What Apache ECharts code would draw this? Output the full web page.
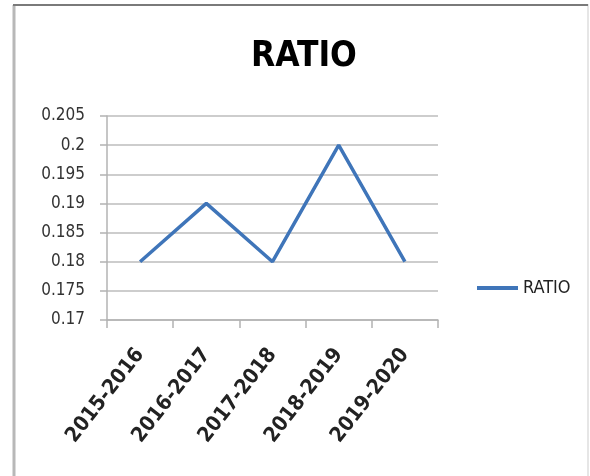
<!DOCTYPE html>
<html>
<head>
<meta charset="utf-8">
<script src="https://cdn.jsdelivr.net/npm/echarts@6/dist/echarts.min.js"></script>
<style>
	html,body{margin:0;padding:0;background:#fff;}
	#ratioChart{width:590px;height:476px;}
</style>
</head>
<body>
<div id="ratioChart"></div>
<script>
//数据
var years = ['2015-2016','2016-2017','2017-2018','2018-2019','2019-2020'];
var ratioValues = [0.18, 0.19, 0.18, 0.2, 0.18];
var yTicks = [0.17, 0.175, 0.18, 0.185, 0.19, 0.195, 0.2, 0.205];

var fontName = '"DejaVu Sans Condensed", "Liberation Sans", sans-serif';

var ratioChart = echarts.init(document.getElementById('ratioChart'));

var ratioChart_option = {
	animation:false,
	title:{
		text:'RATIO',
		left:246,
		top:34,
		textStyle:{
			fontFamily:fontName,
			fontSize:35,
			fontWeight:'bold',
			color:'#000'
		}
	},
	legend:{
		data:['RATIO'],
		left:472,
		top:274,
		icon:'rect',
		itemWidth:41,
		itemHeight:4,
		itemGap:5,
		textStyle:{
			fontFamily:fontName,
			fontSize:18,
			color:'#222'
		}
	},
	grid:{
		left:107,
		right:152,
		top:116,
		bottom:156
	},
	xAxis:{
		type:'category',
		data:years,
		boundaryGap:true,
		axisLine:{lineStyle:{color:'#b3b3b3',width:1.5}},
		axisTick:{show:true,length:8,lineStyle:{color:'#b3b3b3',width:1.5}},
		axisLabel:{
			rotate:52,
			margin:31,
			fontFamily:fontName,
			fontSize:21,
			fontWeight:'bold',
			color:'#222'
		},
		splitLine:{show:false}
	},
	yAxis:{
		type:'value',
		min:yTicks[0],
		max:yTicks[yTicks.length-1],
		interval:0.005,
		axisLine:{show:true,lineStyle:{color:'#b3b3b3',width:1.5}},
		axisTick:{show:true,length:7,lineStyle:{color:'#b3b3b3',width:1.5}},
		axisLabel:{
			margin:22,
			fontFamily:fontName,
			fontSize:17,
			color:'#333',
			formatter:function(v){
				return String(parseFloat(v.toFixed(3)));
			}
		},
		splitLine:{show:true,lineStyle:{color:'#bdbdbd',width:1.5}}
	},
	series:[
		{
			name:'RATIO',
			type:'line',
			data:ratioValues,
			showSymbol:false,
			lineStyle:{width:3.5,color:'#3f75b9'}
		}
	],
	color:['#3f75b9'],
	graphic:{
		elements:[
			{
				type:'rect',
				silent:true,
				shape:{x:14,y:5,width:574,height:490},
				style:{fill:null,stroke:'#e6e6e6',lineWidth:2}
			},
			{
				type:'line',
				silent:true,
				shape:{x1:14,y1:5,x2:14,y2:476},
				style:{stroke:'#b8b8b8',lineWidth:3}
			},
			{
				type:'line',
				silent:true,
				shape:{x1:13,y1:5,x2:588,y2:5},
				style:{stroke:'#7a7a7a',lineWidth:2}
			}
		]
	}
};

ratioChart.setOption(ratioChart_option);
</script>
</body>
</html>
